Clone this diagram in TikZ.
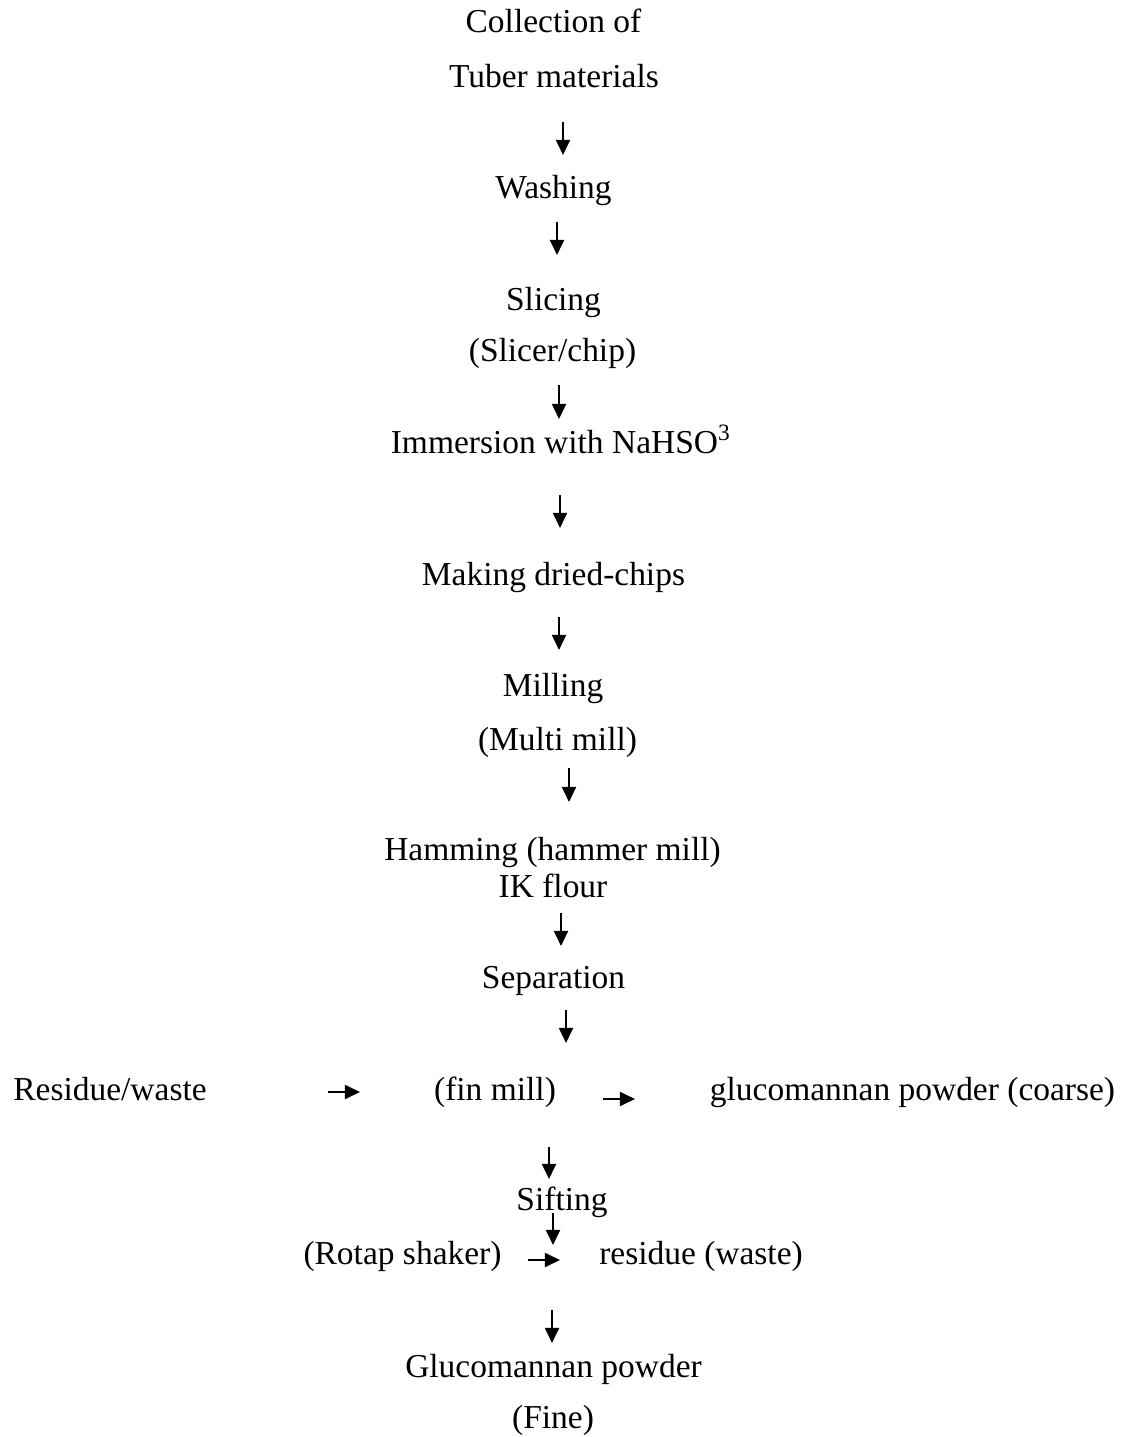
\documentclass[tikz,border=0pt]{standalone}
\usepackage{fontspec}
\setmainfont{Liberation Serif}
\usetikzlibrary{arrows.meta, calc}

\begin{document}
\begin{tikzpicture}[
    x=0.0125cm, y=-0.0125cm,
    stage/.style={inner sep=0pt, anchor=base, font=\fontsize{11.9}{14}\selectfont},
    flow/.style={-{Triangle[length=5.4pt, width=5pt]}, line width=0.75pt}
]
\useasboundingbox (0,0) rectangle (1128,1437);

% Main chain
\node[stage] (coll) at (553.5,33) {Collection of};
\node[stage] (tuber) at (554,88) {Tuber materials};
\node[stage] (wash) at (553.5,198) {Washing};
\node[stage] (slice) at (553.5,310) {Slicing};
\node[stage] (slicer) at (552.5,361) {(Slicer/chip)};
\node[stage] (immer) at (561,453) {Immersion with NaHSO\textsuperscript{3}};
\node[stage] (dried) at (553.5,585) {Making dried-chips};
\node[stage] (mill) at (553,696) {Milling};
\node[stage] (multi) at (557.5,750) {(Multi mill)};
\node[stage] (hamm) at (552.5,860) {Hamming (hammer mill)};
\node[stage] (ikf) at (553,897) {IK flour};
\node[stage] (sep) at (553.5,988) {Separation};

% Fine milling row
\node[stage] (resid) at (110,1100) {Residue/waste};
\node[stage] (finmill) at (495,1100) {(fin mill)};
\node[stage] (coarse) at (912.5,1100) {glucomannan powder (coarse)};

% Sifting
\node[stage] (sift) at (562,1210) {Sifting};
\node[stage] (rotap) at (402.5,1264) {(Rotap shaker)};
\node[stage] (rwaste) at (701,1264) {residue (waste)};
\coordinate (drop) at (553,1245);
\node[stage] (gluco) at (553.5,1377) {Glucomannan powder};
\node[stage] (fine) at (553,1428) {(Fine)};

% Arrows
\draw[flow] ($(tuber.base)+(9,34)$) -- ($(wash.base)+(9.5,-43)$);
\draw[flow] ($(wash.base)+(3.5,24)$) -- ($(slice.base)+(3.5,-55)$);
\draw[flow] ($(slicer.base)+(6.5,24)$) -- ($(immer.base)+(-2,-34)$);
\draw[flow] ($(immer.base)+(-1,42)$) -- ($(dried.base)+(6.5,-57)$);
\draw[flow] ($(dried.base)+(5.5,32)$) -- ($(mill.base)+(6,-46)$);
\draw[flow] ($(multi.base)+(11.5,18)$) -- ($(hamm.base)+(16.5,-58)$);
\draw[flow] ($(ikf.base)+(8,16)$) -- ($(sep.base)+(7.5,-42)$);
\draw[flow] ($(sep.base)+(12.5,22)$) -- ($(finmill.base)+(71,-57)$);
\draw[flow] ($(resid.base)+(218,-8)$) -- ($(finmill.base)+(-135,-8)$);
\draw[flow] ($(finmill.base)+(108,-1)$) -- ($(coarse.base)+(-277.5,-1)$);
\draw[flow] ($(finmill.base)+(54,47)$) -- ($(sift.base)+(-13,-31)$);
\draw[flow] ($(sift.base)+(-9,3)$) -- (drop);
\draw[flow] ($(rotap.base)+(125.5,-4)$) -- ($(rwaste.base)+(-141,-4)$);
\draw[flow] ($(drop)+(-1,65)$) -- ($(gluco.base)+(-1.5,-34)$);

\end{tikzpicture}
\end{document}
